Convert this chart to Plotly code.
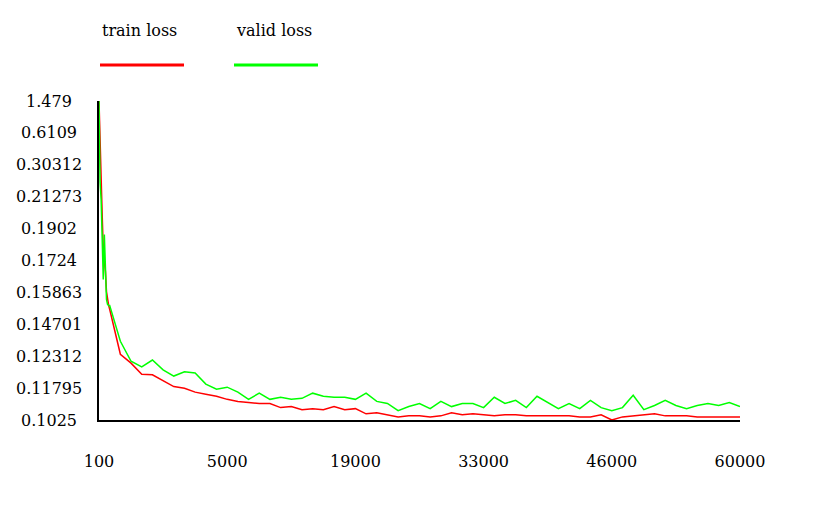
import numpy as np
import plotly.graph_objects as go

# ---------------- data ----------------
y_tick_labels = ["0.1025", "0.11795", "0.12312", "0.14701", "0.15863", "0.1724",
                 "0.1902", "0.21273", "0.30312", "0.6109", "1.479"]
y_tick_values = [float(s) for s in y_tick_labels]
x_tick_labels = ["100", "5000", "19000", "33000", "46000", "60000"]

# evaluation index (first evaluations are dense)
eval_index = [0, 0.1, 0.2, 0.3, 0.4, 0.5, 0.6, 0.7, 0.8, 0.9] + list(range(1, 61))

train_loss = [
    1.479, 0.4955, 0.2184, 0.1991, 0.1785, 0.1730, 0.1677, 0.1590, 0.1561, 0.1539,
    0.1525, 0.1246, 0.1220, 0.1202, 0.1201, 0.1192, 0.1182, 0.1179, 0.1160, 0.1150,
    0.1140, 0.1125, 0.1115, 0.1110, 0.1105, 0.1105, 0.1085, 0.1090, 0.1075, 0.1080,
    0.1075, 0.1090, 0.1075, 0.1080, 0.1055, 0.1060, 0.1050, 0.1040, 0.1045, 0.1045,
    0.1040, 0.1045, 0.1060, 0.1050, 0.1055, 0.1050, 0.1045, 0.1050, 0.1050, 0.1045,
    0.1045, 0.1045, 0.1045, 0.1045, 0.1040, 0.1040, 0.1050, 0.1025, 0.1040, 0.1045,
    0.1050, 0.1055, 0.1045, 0.1045, 0.1045, 0.1040, 0.1040, 0.1040, 0.1040, 0.1040,
]
valid_loss = [
    1.479, 0.2551, 0.2106, 0.1757, 0.1642, 0.1869, 0.1730, 0.1561, 0.1543, 0.1539,
    0.1539, 0.1343, 0.1223, 0.1214, 0.1225, 0.1209, 0.1199, 0.1206, 0.1204, 0.1186,
    0.1174, 0.1181, 0.1160, 0.1125, 0.1155, 0.1125, 0.1135, 0.1125, 0.1130, 0.1155,
    0.1140, 0.1135, 0.1135, 0.1125, 0.1155, 0.1115, 0.1105, 0.1070, 0.1090, 0.1105,
    0.1080, 0.1115, 0.1090, 0.1105, 0.1105, 0.1085, 0.1135, 0.1105, 0.1120, 0.1085,
    0.1140, 0.1110, 0.1080, 0.1105, 0.1080, 0.1120, 0.1085, 0.1070, 0.1085, 0.1145,
    0.1075, 0.1095, 0.1120, 0.1095, 0.1080, 0.1095, 0.1105, 0.1095, 0.1110, 0.1090,
]

series_names = ["train loss", "valid loss"]
series_colors = ["#ff0000", "#00ff00"]

# ---------------- scales ----------------
# the y axis places its labelled values at even spacing; map values onto that scale
y_idx = np.arange(len(y_tick_values))
def y_scale(v):
    return np.interp(v, y_tick_values, y_idx)

x_max = 60
x_tickvals = np.linspace(0, x_max, len(x_tick_labels))

FONT = "DejaVu Serif"
PAGE = 8                      # default body margin of the html page
W, H = 840 - 2 * PAGE, 520 - 2 * PAGE
ML, MR, MT, MB = 99 - PAGE, 100 - PAGE, 101 - PAGE, 100 - PAGE

fig = go.Figure()
for name, vals, col in zip(series_names, [train_loss, valid_loss], series_colors):
    fig.add_trace(go.Scatter(x=eval_index, y=y_scale(vals), mode="lines", name=name,
                             line=dict(color=col, width=1.5), showlegend=False))

def px_x(p):
    return (p - PAGE - ML) / (W - ML - MR)

def px_y(p):
    return (H - MB - (p - PAGE)) / (H - MT - MB)

annotations = []
for i, lab in enumerate(y_tick_labels):
    annotations.append(dict(xref="paper", yref="y", x=0, y=i, xshift=-50, text=lab,
                            showarrow=False, xanchor="center", yanchor="middle",
                            font=dict(family=FONT, size=16, color="black")))

shapes = []
legend_left = [100, 234]
for name, col, lx in zip(series_names, series_colors, legend_left):
    annotations.append(dict(xref="paper", yref="paper", x=px_x(lx), y=px_y(31), text=name,
                            showarrow=False, xanchor="left", yanchor="middle",
                            font=dict(family=FONT, size=16, color="black")))
    shapes.append(dict(type="line", xref="paper", yref="paper",
                       x0=px_x(lx), x1=px_x(lx + 84), y0=px_y(65), y1=px_y(65),
                       line=dict(color=col, width=3)))

fig.update_layout(
    width=W, height=H,
    margin=dict(l=ML, r=MR, t=MT, b=MB),
    paper_bgcolor="white", plot_bgcolor="white",
    font=dict(family=FONT, size=16, color="black"),
    annotations=annotations, shapes=shapes,
    xaxis=dict(range=[0, x_max], tickvals=x_tickvals, ticktext=x_tick_labels,
               showline=True, linecolor="black", linewidth=2, showgrid=False,
               zeroline=False, ticks="", ticklabelstandoff=26,
               tickfont=dict(family=FONT, size=16, color="black")),
    yaxis=dict(range=[0, len(y_tick_values) - 1], showline=True, linecolor="black",
               linewidth=2, showgrid=False, zeroline=False, showticklabels=False,
               ticks=""),
)

fig.write_html("out.html")
